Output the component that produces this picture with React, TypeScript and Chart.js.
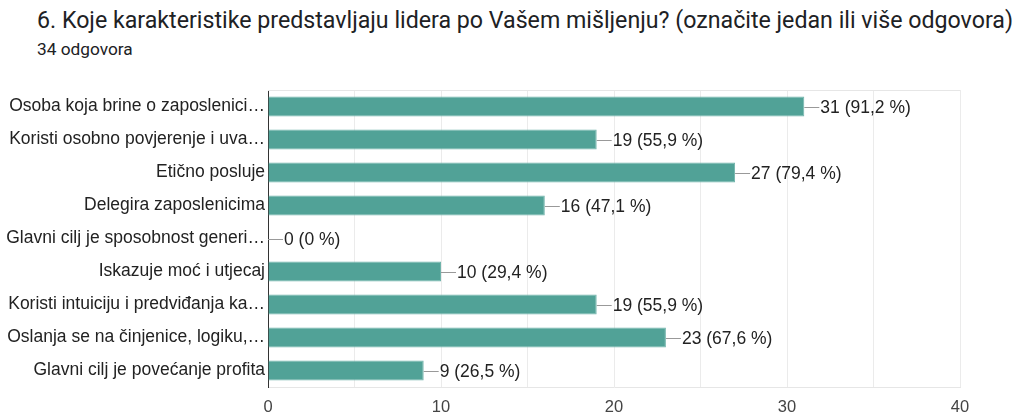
import React, { useEffect, useRef } from "react";
import { Chart, registerables } from "chart.js";

Chart.register(...registerables);

const categories = [
  "Osoba koja brine o zaposlenici…",
  "Koristi osobno povjerenje i uva…",
  "Etično posluje",
  "Delegira zaposlenicima",
  "Glavni cilj je sposobnost generi…",
  "Iskazuje moć i utjecaj",
  "Koristi intuiciju i predviđanja ka…",
  "Oslanja se na činjenice, logiku,…",
  "Glavni cilj je povećanje profita",
];
const counts = [31, 19, 27, 16, 0, 10, 19, 23, 9];
const percentLabels = ["91,2", "55,9", "79,4", "47,1", "0", "29,4", "55,9", "67,6", "26,5"];
const xTicks = [0, 10, 20, 30, 40];

const FONT = "'Liberation Sans', Arial, sans-serif";

const decorPlugin = {
  id: "decor",
  beforeDatasetsDraw(chart: any) {
    const { ctx, chartArea } = chart;
    ctx.save();
    ctx.strokeStyle = "#e6e6e6";
    ctx.lineWidth = 1;
    ctx.beginPath();
    ctx.moveTo(chartArea.left, chartArea.top + 0.5);
    ctx.lineTo(chartArea.right, chartArea.top + 0.5);
    ctx.stroke();
    ctx.restore();
  },
  afterDatasetsDraw(chart: any) {
    const { ctx } = chart;
    const meta = chart.getDatasetMeta(0);
    ctx.save();
    ctx.font = `17.5px ${FONT}`;
    ctx.textBaseline = "middle";
    ctx.textAlign = "left";
    meta.data.forEach((bar: any, i: number) => {
      const x = bar.x;
      const y = Math.round(bar.y) + 0.5;
      ctx.strokeStyle = "#999999";
      ctx.lineWidth = 1;
      ctx.beginPath();
      ctx.moveTo(x, y);
      ctx.lineTo(x + 15, y);
      ctx.stroke();
      ctx.fillStyle = "#222222";
      ctx.fillText(`${counts[i]} (${percentLabels[i]} %)`, x + 16, y + 1);
    });
    ctx.restore();
  },
};

export default function App() {
  const ref = useRef<HTMLCanvasElement>(null);
  useEffect(() => {
    if (!ref.current) return;
    const chart = new Chart(ref.current, {
      type: "bar",
      data: {
        labels: categories,
        datasets: [
          {
            data: counts,
            backgroundColor: "#51a297",
            borderColor: "#6fb3aa",
            borderWidth: 1,
            barPercentage: 0.61,
            categoryPercentage: 1,
          },
        ],
      },
      options: {
        indexAxis: "y",
        animation: false,
        responsive: false,
        maintainAspectRatio: false,
        layout: { padding: { top: 90, right: 58, left: 0, bottom: 0 } },
        plugins: {
          legend: { display: false },
          tooltip: { enabled: false },
        },
        scales: {
          x: {
            min: 0,
            max: 40,
            afterFit(scale: any) {
              scale.height = 29;
            },
            ticks: {
              stepSize: 5,
              padding: 11,
              color: "#444444",
              font: { family: FONT, size: 16.5 },
              maxRotation: 0,
              callback: (v: any) => (xTicks.includes(Number(v)) ? String(v) : ""),
            },
            grid: { color: "#ebebeb", drawTicks: false },
            border: { color: "#e6e6e6" },
          },
          y: {
            afterFit(scale: any) {
              scale.width = 268;
            },
            ticks: {
              padding: 3,
              color: "#222222",
              font: { family: FONT, size: 17.5 },
              autoSkip: false,
            },
            grid: { display: false, drawTicks: false },
            border: { color: "#333333", width: 1 },
          },
        },
      },
      plugins: [decorPlugin],
    });
    return () => chart.destroy();
  }, []);

  return (
    <div style={{ position: "fixed", left: 0, top: 0, width: 1018, height: 416, background: "#fff" }}>
      <div
        style={{
          position: "absolute",
          left: 37,
          top: 5,
          fontFamily: "Roboto, sans-serif",
          fontSize: 23.2,
          color: "#202124",
          whiteSpace: "nowrap",
          lineHeight: "30px",
        }}
      >
        6. Koje karakteristike predstavljaju lidera po Vašem mišljenju? (označite jedan ili više odgovora)
      </div>
      <div
        style={{
          position: "absolute",
          left: 37,
          top: 38,
          fontFamily: "Roboto, sans-serif",
          fontSize: 17.3,
          color: "#202124",
          whiteSpace: "nowrap",
          lineHeight: "22px",
        }}
      >
        34 odgovora
      </div>
      <canvas ref={ref} width={1018} height={416} style={{ position: "absolute", left: 0, top: 0 }} />
    </div>
  );
}
